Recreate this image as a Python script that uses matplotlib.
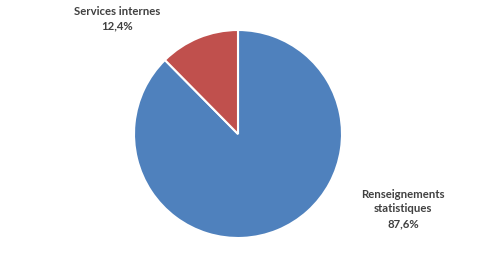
import matplotlib

matplotlib.use("Agg")
import matplotlib.pyplot as plt

# Share of spending by program (percent)
categories = ["Renseignements statistiques", "Services internes"]
shares = [87.6, 12.4]
labels = ["Renseignements\nstatistiques\n87,6%", "Services internes\n12,4%"]
colors = ["#4F81BD", "#C0504D"]

W, H = 478, 269
fig = plt.figure(figsize=(W / 100, H / 100), dpi=100)

cx, cy, r = 238, 134, 104
ax = fig.add_axes([(cx - r) / W, (H - cy - r) / H, 2 * r / W, 2 * r / H])
ax.pie(shares, colors=colors, startangle=90, counterclock=False,
       wedgeprops=dict(edgecolor="white", linewidth=1.5))
ax.set_xlim(-1, 1)
ax.set_ylim(-1, 1)
ax.set_aspect("equal")

label_pos = [(403, 209), (117, 19)]
for (px, py), txt in zip(label_pos, labels):
    fig.text(px / W, 1 - py / H, txt, ha="center", va="center",
             fontsize=8.2, fontweight="bold", family="Lato",
             color="#404040", linespacing=1.4)

fig.savefig("out.png", dpi=100)
